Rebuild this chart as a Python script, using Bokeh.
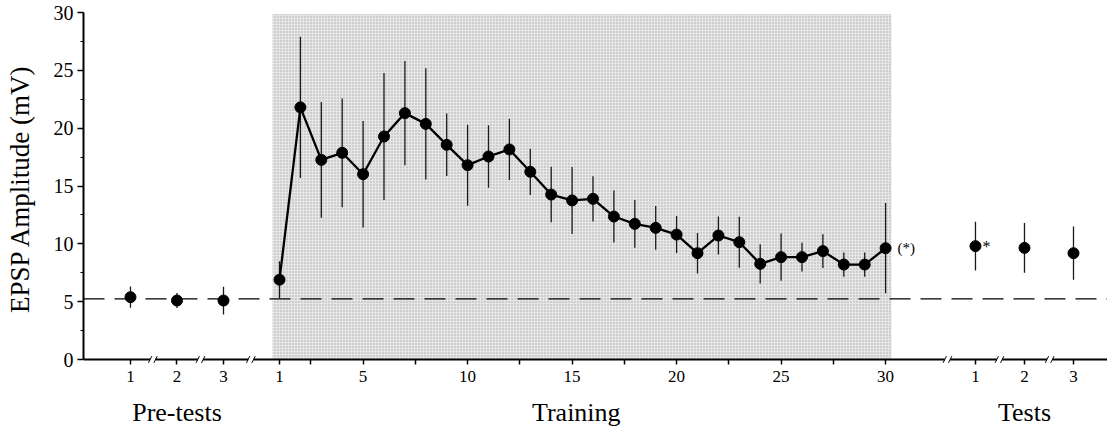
from bokeh.plotting import figure
from bokeh.models import FixedTicker, LinearAxis, SingleIntervalTicker, Range1d
from bokeh.core.properties import value
from bokeh.embed import file_html
from bokeh.resources import INLINE

# ---------------- data ----------------
pre_labels = ["1", "2", "3"]
pre_mean = [5.39, 5.10, 5.10]
pre_err = [0.92, 0.65, 1.20]

train_sessions = list(range(1, 31))
train_mean = [6.90, 21.80, 17.26, 17.87, 16.02, 19.28, 21.30, 20.37, 18.56, 16.80,
              17.55, 18.16, 16.23, 14.26, 13.75, 13.89, 12.36, 11.73, 11.38, 10.80,
              9.19, 10.72, 10.14, 8.27, 8.85, 8.85, 9.37, 8.21, 8.21, 9.62]
train_err = [1.60, 6.10, 5.00, 4.70, 4.60, 5.50, 4.50, 4.80, 2.70, 3.50,
             2.70, 2.65, 2.00, 2.40, 2.90, 1.95, 2.25, 2.06, 1.90, 1.60,
             1.75, 1.65, 2.20, 1.70, 2.05, 1.25, 1.45, 1.05, 1.05, 3.90]

test_labels = ["1", "2", "3"]
test_mean = [9.80, 9.65, 9.19]
test_err = [2.10, 2.15, 2.30]

baseline = 5.25
train_tick_values = [1, 5, 10, 15, 20, 25, 30]
train_minor_ticks = [2.5, 7.5, 12.5, 17.5, 22.5, 27.5]
group_labels = ["Pre-tests", "Training", "Tests"]
y_label = "EPSP Amplitude (mV)"
train_note = "(*)"
test_note = "*"

# ---------------- layout ----------------
X_START, X_END = -8.378, 40.617
Y_START, Y_END = -0.432, 30
PRE_X0, PRE_STEP = -6.13, 2.225
TEST_X0, TEST_STEP = 34.30, 2.345
pre_x = [round(PRE_X0 + i * PRE_STEP, 3) for i in range(len(pre_mean))]
test_x = [round(TEST_X0 + i * TEST_STEP, 3) for i in range(len(test_mean))]
breaks = [-5.06, -2.78, -0.37, 32.96, 35.45, 37.85]
shade_left, shade_right, shade_top = 0.665, 30.28, 29.87
group_pos = [pre_x[1], 15.2, test_x[1]]
FONT = "Liberation Serif"

p = figure(width=1107, height=429,
           x_range=Range1d(X_START, X_END), y_range=Range1d(Y_START, Y_END),
           output_backend="svg", toolbar_location=None,
           min_border_left=83, min_border_right=0, min_border_top=12, min_border_bottom=65)
p.xgrid.visible = False
p.ygrid.visible = False
p.outline_line_color = None
p.background_fill_color = "white"

# shaded training period
p.quad(left=[shade_left], right=[shade_right], bottom=[0], top=[shade_top],
       fill_color="#e6e6e6", line_color=None,
       hatch_pattern="dot", hatch_color="#a8a8a8", hatch_scale=3, hatch_weight=1)

# dashed baseline
p.line([X_START, X_END], [baseline, baseline], line_color="black",
       line_width=1.2, line_dash="21 10")

# x axis line with break marks
gap = 0.13
seg_x0 = [X_START] + [b + gap for b in breaks]
seg_x1 = [b - gap for b in breaks] + [X_END]
p.segment(x0=seg_x0, y0=[0] * len(seg_x0), x1=seg_x1, y1=[0] * len(seg_x1),
          line_color="black", line_width=2)
sl_c = [b - gap for b in breaks] + [b + gap for b in breaks]
p.segment(x0=[c - 0.08 for c in sl_c], y0=[-0.29] * len(sl_c),
          x1=[c + 0.08 for c in sl_c], y1=[0.29] * len(sl_c),
          line_color="black", line_width=1)

# error bars
all_x = pre_x + train_sessions + test_x
all_mean = pre_mean + train_mean + test_mean
all_err = pre_err + train_err + test_err
p.segment(x0=all_x, y0=[m - e for m, e in zip(all_mean, all_err)],
          x1=all_x, y1=[m + e for m, e in zip(all_mean, all_err)],
          line_color="#1a1a1a", line_width=1.3)

# training line
p.line(train_sessions, train_mean, line_color="black", line_width=2.3)

# markers
p.scatter(all_x, all_mean, size=11, fill_color="black", line_color="black")

# notes
p.text(x=[train_sessions[-1]], y=[train_mean[-1]], text=[train_note],
       x_offset=12, text_baseline="middle", text_align="left",
       text_font=value(FONT), text_font_size="15px", text_color="black")
p.text(x=[test_x[0]], y=[test_mean[0]], text=[test_note],
       x_offset=7, y_offset=0, text_baseline="middle", text_align="left",
       text_font=value(FONT), text_font_size="16px", text_color="black")

# main x axis (ticks and numbers)
xa = p.xaxis[0]
xa.ticker = FixedTicker(ticks=pre_x + train_tick_values + test_x, minor_ticks=train_minor_ticks)
overrides = {}
for xv, lab in zip(pre_x, pre_labels):
    overrides[xv] = lab
for xv, lab in zip(test_x, test_labels):
    overrides[xv] = lab
xa.major_label_overrides = overrides
xa.axis_line_color = None
xa.major_tick_in = 5
xa.major_tick_out = 0
xa.minor_tick_in = 5
xa.minor_tick_out = 0
xa.major_tick_line_width = 1.5
xa.minor_tick_line_width = 1.5
xa.major_tick_line_color = "black"
xa.minor_tick_line_color = "black"
xa.major_label_standoff = 6
xa.major_label_text_font = FONT
xa.major_label_text_font_size = "17px"
xa.major_label_text_color = "black"

# group label axis
ga = LinearAxis(ticker=FixedTicker(ticks=group_pos, minor_ticks=[]),
                major_label_overrides={gp: gl for gp, gl in zip(group_pos, group_labels)},
                axis_line_color=None, major_tick_line_color=None, minor_tick_line_color=None,
                major_tick_in=0, major_tick_out=0, minor_tick_in=0, minor_tick_out=0,
                major_label_standoff=13, major_label_text_font=FONT,
                major_label_text_font_size="26px", major_label_text_color="black")
p.add_layout(ga, "below")

# y axis
ya = p.yaxis[0]
ya.ticker = SingleIntervalTicker(interval=5, num_minor_ticks=2)
ya.bounds = (0, 30)
ya.axis_line_width = 2
ya.axis_line_color = "black"
ya.major_tick_out = 6
ya.major_tick_in = 0
ya.minor_tick_out = 3
ya.minor_tick_in = 0
ya.major_tick_line_width = 1.5
ya.minor_tick_line_width = 1
ya.major_tick_line_color = "black"
ya.minor_tick_line_color = "black"
ya.major_label_standoff = 4
ya.major_label_text_font = FONT
ya.major_label_text_font_size = "20px"
ya.major_label_text_color = "black"
ya.axis_label = y_label
ya.axis_label_text_font = FONT
ya.axis_label_text_font_size = "27px"
ya.axis_label_text_font_style = "normal"
ya.axis_label_text_color = "black"
ya.axis_label_standoff = 16

open("out.html", "w").write(file_html(p, INLINE))
